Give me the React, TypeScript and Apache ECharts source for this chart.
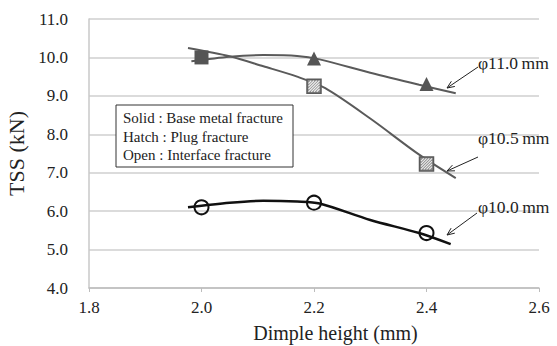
import React, { useEffect, useRef } from "react";
import * as echarts from "echarts";

const xTickValues = [1.8, 2.0, 2.2, 2.4, 2.6];
const yTickValues = [4, 5, 6, 7, 8, 9, 10, 11];

// measured points (dimple height, TSS)
const d110Solid = [[2.2, 9.97], [2.4, 9.31]];
const d105Solid = [[2.0, 10.0]];
const d105Hatch = [[2.2, 9.25], [2.4, 7.23]];
const d100Open = [[2.0, 6.1], [2.2, 6.22], [2.4, 5.43]];

// trend curves
const curve110 = [[1.982, 9.9], [2.05, 10.02], [2.11, 10.06], [2.17, 10.04], [2.21, 9.95], [2.3, 9.6], [2.387, 9.29], [2.452, 9.07]];
const curve105 = [[1.976, 10.245], [2.05, 10.03], [2.11, 9.77], [2.17, 9.5], [2.22, 9.2], [2.3, 8.41], [2.387, 7.47], [2.452, 6.86]];
const curve100 = [[1.976, 6.1], [2.05, 6.22], [2.11, 6.27], [2.17, 6.25], [2.21, 6.2], [2.3, 5.77], [2.387, 5.43], [2.443, 5.14]];

const legendLines = ["Solid : Base metal fracture", "Hatch : Plug fracture", "Open : Interface fracture"];
const seriesLabels = ["φ11.0\u2009mm", "φ10.5\u2009mm", "φ10.0\u2009mm"];

const SERIF = "Liberation Serif";

const HATCH_PATH =
  "path://M0 3.5L3.5 0M0 7L7 0M0 10.5L10.5 0M0 14L14 0M3.5 14L14 3.5M7 14L14 7M10.5 14L14 10.5";

function arrow(x1: number, y1: number, x2: number, y2: number) {
  const ang = Math.atan2(y2 - y1, x2 - x1);
  const L = 8, w = 0.4;
  const p1 = [x2 - L * Math.cos(ang - w), y2 - L * Math.sin(ang - w)];
  const p2 = [x2 - L * Math.cos(ang + w), y2 - L * Math.sin(ang + w)];
  return [
    { type: "line", shape: { x1, y1, x2, y2 }, style: { stroke: "#222", lineWidth: 1 }, z: 100 },
    { type: "polyline", shape: { points: [p1, [x2, y2], p2] }, style: { stroke: "#222", lineWidth: 1, fill: "none" }, z: 100 },
  ];
}

export default function App() {
  const ref = useRef<HTMLDivElement>(null);
  useEffect(() => {
    const chart = echarts.init(ref.current!, null, { renderer: "svg" });
    const option: any = {
      animation: false,
      backgroundColor: "#fff",
      textStyle: { fontFamily: SERIF },
      grid: { left: 89, right: 18, top: 19, bottom: 58, containLabel: false, outerBoundsMode: "none" },
      xAxis: {
        type: "value",
        min: xTickValues[0],
        max: xTickValues[xTickValues.length - 1],
        interval: 0.2,
        name: "Dimple height (mm)",
        nameLocation: "middle",
        nameGap: 35,
        nameTextStyle: { fontFamily: SERIF, fontSize: 20, color: "#222", padding: [0, 0, 0, 43] },
        axisLine: { lineStyle: { color: "#bdbdbd", width: 1.5 } },
        axisTick: { show: true, length: 4, lineStyle: { color: "#bdbdbd" } },
        axisLabel: { fontFamily: SERIF, fontSize: 17, color: "#222", margin: 11, formatter: (v: number) => v.toFixed(1) },
        splitLine: { show: false },
      },
      yAxis: {
        type: "value",
        min: yTickValues[0],
        max: yTickValues[yTickValues.length - 1],
        interval: 1,
        name: "TSS (kN)",
        nameLocation: "middle",
        nameGap: 57,
        nameRotate: 90,
        nameTextStyle: { fontFamily: SERIF, fontSize: 22, color: "#222" },
        axisLine: { show: true, lineStyle: { color: "#c8c8c8", width: 1.5 } },
        axisTick: { show: false },
        axisLabel: { fontFamily: SERIF, fontSize: 17, color: "#222", margin: 21, formatter: (v: number) => v.toFixed(1) },
        splitLine: { lineStyle: { color: "#cfcfcf", width: 1.5 } },
      },
      series: [
        { type: "line", data: curve110, smooth: 0.3, showSymbol: false, symbol: "none", lineStyle: { color: "#5a5a5a", width: 2 }, z: 2 },
        { type: "line", data: curve105, smooth: 0.3, showSymbol: false, symbol: "none", lineStyle: { color: "#5a5a5a", width: 2 }, z: 2 },
        { type: "line", data: curve100, smooth: 0.3, showSymbol: false, symbol: "none", lineStyle: { color: "#111", width: 2.5 }, z: 2 },
        { type: "scatter", data: d110Solid, symbol: "triangle", symbolSize: 14, itemStyle: { color: "#555", opacity: 1 }, z: 5 },
        { type: "scatter", data: d105Solid, symbol: "rect", symbolSize: 14, itemStyle: { color: "#555", opacity: 1 }, z: 5 },
        { type: "scatter", data: d105Hatch, symbol: "rect", symbolSize: 14, itemStyle: { color: "#8a8a8a", borderColor: "#5a5a5a", borderWidth: 1.5, opacity: 1 }, z: 5 },
        { type: "scatter", data: d105Hatch, symbol: HATCH_PATH, symbolSize: 11, silent: true, itemStyle: { color: "none", borderColor: "#eeeeee", borderWidth: 1.1, opacity: 1 }, z: 6 },
        { type: "scatter", data: d100Open, symbol: "circle", symbolSize: 14, itemStyle: { color: "rgba(255,255,255,0)", borderColor: "#111", borderWidth: 2, opacity: 1 }, z: 5 },
      ],
      graphic: [
        { type: "rect", shape: { x: 116, y: 105, width: 177, height: 62 }, style: { fill: "#fff", stroke: "#333", lineWidth: 1 }, z: 50 },
        ...legendLines.map((t, i) => ({
          type: "text", x: 123, y: 118 + i * 18.5, z: 51,
          style: { text: t, fontFamily: SERIF, fontSize: 15, fill: "#222", verticalAlign: "middle" },
        })),
        { type: "text", x: 478, y: 63, z: 51, style: { text: seriesLabels[0], fontFamily: SERIF, fontSize: 17.5, fill: "#222", verticalAlign: "middle" } },
        { type: "text", x: 478, y: 138, z: 51, style: { text: seriesLabels[1], fontFamily: SERIF, fontSize: 17.5, fill: "#222", verticalAlign: "middle" } },
        { type: "text", x: 478, y: 207, z: 51, style: { text: seriesLabels[2], fontFamily: SERIF, fontSize: 17.5, fill: "#222", verticalAlign: "middle" } },
        ...arrow(478, 67, 447, 88),
        ...arrow(478, 157, 447, 171),
        ...arrow(477, 213, 447, 235),
      ],
    };
    chart.setOption(option);
    return () => chart.dispose();
  }, []);
  return <div ref={ref} style={{ width: 557, height: 346, position: "absolute", left: 0, top: 0 }} />;
}
